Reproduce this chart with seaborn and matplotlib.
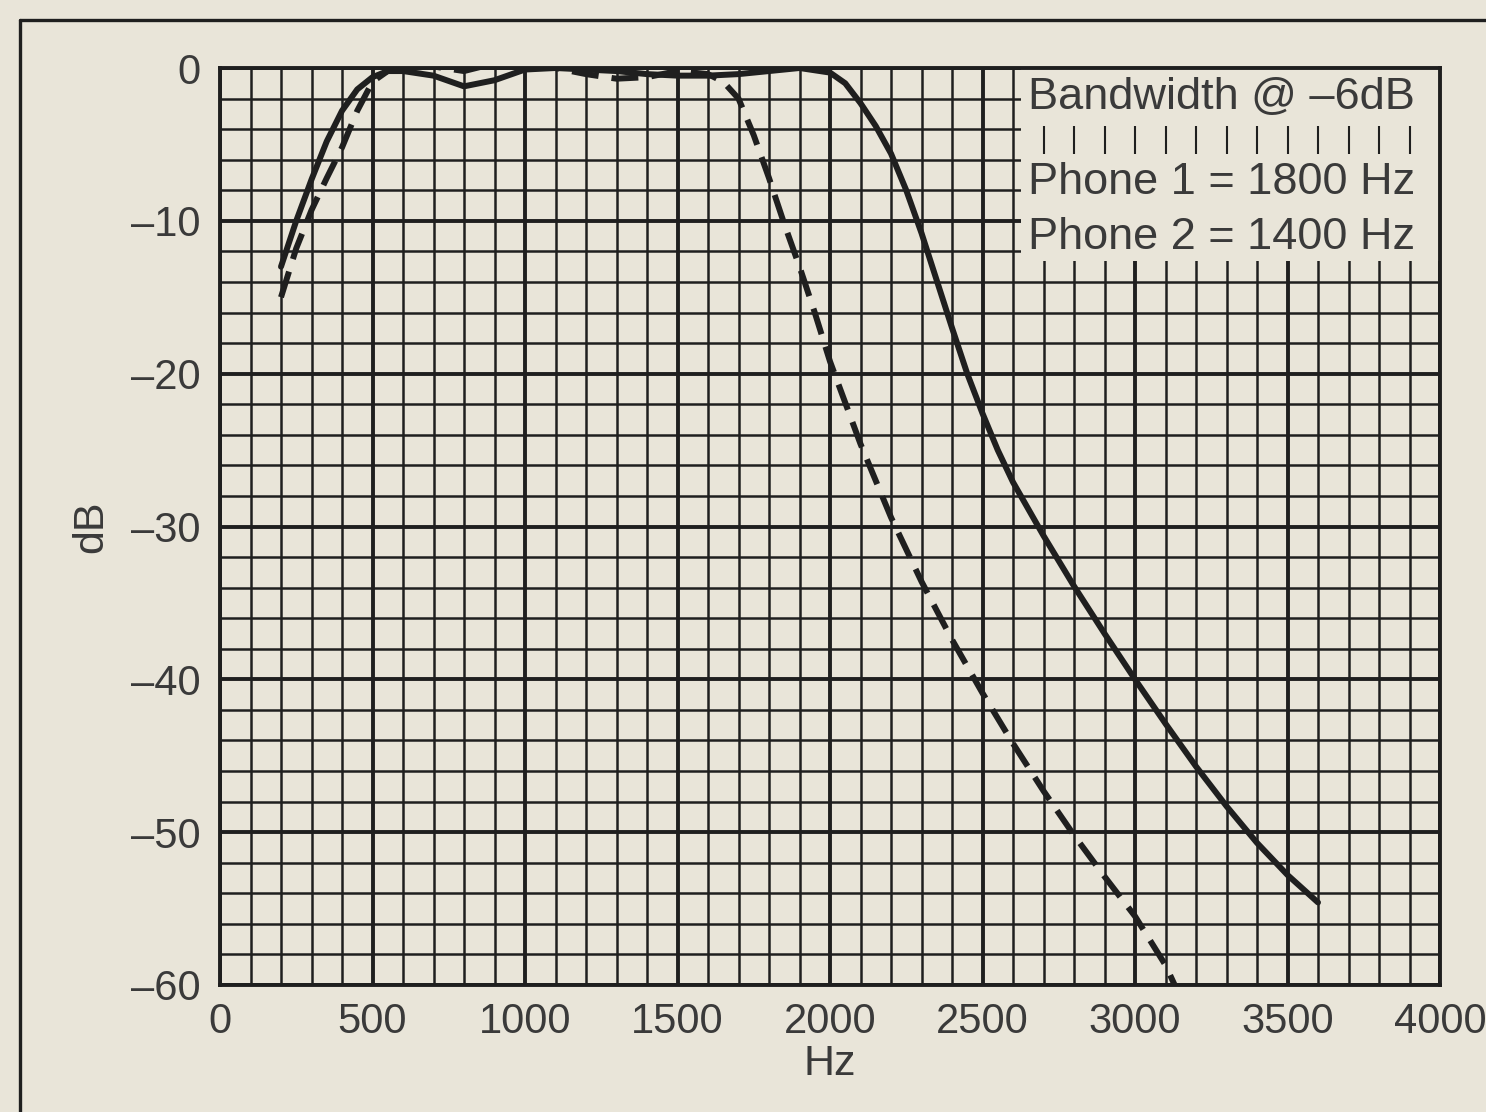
import seaborn as sns
import matplotlib.pyplot as plt
from matplotlib.patches import Rectangle
from matplotlib.lines import Line2D
import numpy as np

# frequency response
phone1_hz = [200, 250, 300, 350, 400, 450, 500, 550, 600, 700, 800, 900, 1000, 1100,
             1200, 1300, 1400, 1500, 1600, 1700, 1800, 1900, 2000, 2050, 2100, 2150,
             2200, 2250, 2300, 2350, 2400, 2450, 2500, 2550, 2600, 2700, 2800, 2900,
             3000, 3100, 3200, 3300, 3400, 3500, 3600]
phone1_db = [-13.0, -10.0, -7.3, -4.8, -2.8, -1.4, -0.6, -0.2, -0.2, -0.5, -1.2, -0.8,
             -0.1, 0.0, -0.1, -0.2, -0.4, -0.5, -0.5, -0.4, -0.2, 0.0, -0.3, -1.0, -2.3,
             -3.8, -5.6, -8.0, -10.8, -13.9, -17.0, -20.0, -22.6, -25.0, -27.1, -30.6,
             -33.9, -37.0, -40.0, -42.9, -45.7, -48.3, -50.7, -52.8, -54.6]

phone2_hz = [200, 250, 300, 350, 400, 450, 500, 550, 600, 700, 800, 900, 1000, 1100,
             1200, 1300, 1400, 1500, 1600, 1650, 1700, 1750, 1800, 1850, 1900, 1950,
             2000, 2100, 2200, 2300, 2400, 2500, 2600, 2700, 2800, 2900, 3000, 3100, 3130]
phone2_db = [-15.0, -11.8, -9.3, -7.2, -5.2, -2.8, -0.9, -0.2, 0.0, 0.1, -0.2, 0.3, 0.4,
             0.0, -0.4, -0.7, -0.6, -0.2, -0.4, -0.9, -2.0, -4.4, -7.2, -10.2, -13.0,
             -16.0, -19.2, -24.6, -29.4, -33.6, -37.4, -40.9, -44.2, -47.3, -50.2, -52.9,
             -55.5, -58.7, -60.0]

x_ticks = [0, 500, 1000, 1500, 2000, 2500, 3000, 3500, 4000]
y_ticks = [0, -10, -20, -30, -40, -50, -60]
y_labels = ['0', '–10', '–20', '–30', '–40', '–50', '–60']

box_lines = ['Bandwidth @ –6dB', 'Phone 1 = 1800 Hz', 'Phone 2 = 1400 Hz']

bg = '#e9e5d9'
ink = '#1f1f1f'
txt = '#3a3a3a'

sns.set_style('white')
plt.rcParams['font.family'] = ['Liberation Sans', 'DejaVu Sans']

fig = plt.figure(figsize=(14.86, 11.12), dpi=100, facecolor=bg)
ax = fig.add_axes([220 / 1486, 127 / 1112, 1220 / 1486, 917 / 1112])
ax.set_facecolor(bg)

ax.set_xlim(0, 4000)
ax.set_ylim(-60, 0)

# graph paper grid
ax.set_xticks(np.arange(0, 4001, 100), minor=True)
ax.set_yticks(np.arange(-60, 1, 2), minor=True)
ax.set_xticks(x_ticks)
ax.set_yticks(y_ticks)
ax.set_xticklabels([str(v) for v in x_ticks], fontsize=30, color=txt)
ax.set_yticklabels(y_labels, fontsize=30, color=txt)
ax.tick_params(which='both', length=0)
ax.tick_params(axis='x', pad=12)
ax.tick_params(axis='y', pad=14)
ax.grid(which='minor', color=ink, lw=1.8)
ax.grid(which='major', color=ink, lw=2.8)
ax.set_axisbelow(True)

for s in ax.spines.values():
    s.set_color(ink)
    s.set_linewidth(2.8)

# bandwidth note box, covers the grid
ax.add_patch(Rectangle((2625, -12.6), 1375, 12.6, facecolor=bg, edgecolor='none', zorder=1))
ax.vlines(np.arange(2700, 4000, 100), -5.6, -3.8, color=ink, lw=1.5, zorder=1.2)
for t, yy in zip(box_lines, [-1.9, -7.5, -11.1]):
    ax.text(2650, yy, t, fontsize=32.5, color=txt, ha='left', va='center', zorder=3)

sns.lineplot(x=phone1_hz, y=phone1_db, ax=ax, color=ink, lw=4.3, zorder=2)
sns.lineplot(x=phone2_hz, y=phone2_db, ax=ax, color=ink, lw=4.3,
             linestyle=(0, (4.5, 2.2)), zorder=2)

ax.set_xlabel('Hz', fontsize=31, color=txt, labelpad=2)
ax.set_ylabel('dB', fontsize=31, color=txt, labelpad=14)

# outer frame of the figure
fig.add_artist(Line2D([20 / 1486, 1], [1 - 20 / 1112, 1 - 20 / 1112],
                      transform=fig.transFigure, color=ink, lw=2.4))
fig.add_artist(Line2D([20 / 1486, 20 / 1486], [0, 1 - 20 / 1112],
                      transform=fig.transFigure, color=ink, lw=2.4))

fig.savefig('out.png', dpi=100, facecolor=bg)
